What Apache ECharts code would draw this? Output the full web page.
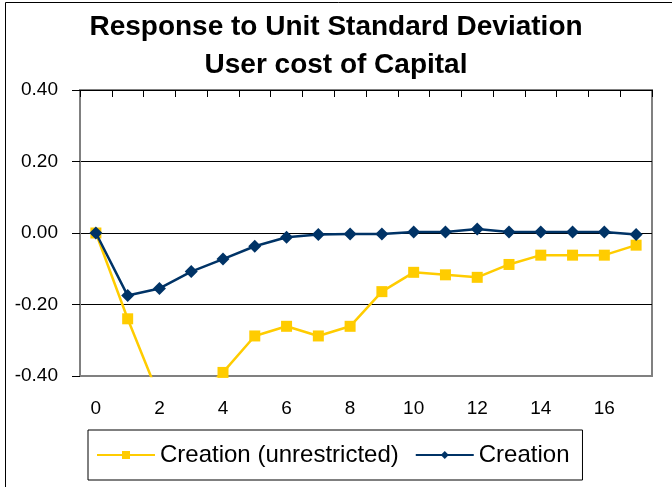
<!DOCTYPE html>
<html>
<head>
<meta charset="utf-8">
<script src="https://cdn.jsdelivr.net/npm/echarts@6/dist/echarts.min.js"></script>
<style>html,body{margin:0;padding:0;background:#fff;}#c{width:672px;height:487px;}</style>
</head>
<body>
<div id="c"></div>
<script>
var categories = ['0','1','2','3','4','5','6','7','8','9','10','11','12','13','14','15','16','17'];
var unrestricted = [0.00, -0.24, -0.46, -0.47, -0.39, -0.288, -0.261, -0.288, -0.261, -0.164, -0.110, -0.117, -0.124, -0.088, -0.062, -0.062, -0.062, -0.034];
var creation = [0.00, -0.175, -0.155, -0.108, -0.073, -0.037, -0.012, -0.004, -0.003, -0.003, 0.003, 0.003, 0.011, 0.003, 0.003, 0.003, 0.003, -0.004];
var yTicks = [-0.4, 0.4, 0.2];
var titleText = 'Response to Unit Standard Deviation\nUser cost of Capital';
var seriesNames = ['Creation (unrestricted)', 'Creation'];

var FONT = "'Liberation Sans', Arial, sans-serif";
var chart = echarts.init(document.getElementById('c'), null, {renderer: 'canvas'});
chart.setOption({
  animation: false,
  backgroundColor: '#fff',
  title: {
    text: titleText,
    left: 'center',
    top: 8,
    padding: [0, 0, 0, 8],
    textStyle: {fontFamily: FONT, fontWeight: 'bold', fontSize: 28, lineHeight: 38, color: '#000'}
  },
  graphic: [
    {type: 'line', shape: {x1: 5.5, y1: 2.5, x2: 672, y2: 2.5}, style: {stroke: '#000', lineWidth: 1}},
    {type: 'line', shape: {x1: 5.5, y1: 2.5, x2: 5.5, y2: 487}, style: {stroke: '#000', lineWidth: 1}}
  ],
  legend: {
    left: 88, top: 430,
    padding: [13, 13, 13, 8],
    borderColor: '#000', borderWidth: 1,
    itemWidth: 58, itemHeight: 10, itemGap: 16,
    textStyle: {fontFamily: FONT, fontSize: 24, color: '#000'},
    data: seriesNames
  },
  grid: {left: 80, top: 90, width: 572, height: 286, show: true, borderColor: '#808080', borderWidth: 2, containLabel: false},
  xAxis: [
    {
      type: 'category', data: categories, position: 'bottom',
      axisLine: {show: false}, axisTick: {show: false},
      axisLabel: {interval: 1, margin: 23, fontFamily: FONT, fontSize: 19, color: '#000'},
      splitLine: {show: false}
    },
    {
      type: 'category', data: categories, position: 'top',
      axisLine: {show: true, onZero: true, lineStyle: {color: '#000', width: 1}},
      axisTick: {show: true, inside: true, length: 7, lineStyle: {color: '#000'}},
      axisLabel: {show: false},
      splitLine: {show: false}
    }
  ],
  yAxis: {
    type: 'value', min: yTicks[0], max: yTicks[1], interval: yTicks[2],
    axisLine: {show: true, lineStyle: {color: '#808080', width: 2}},
    axisTick: {show: true, length: 8, lineStyle: {color: '#000', width: 1}},
    axisLabel: {margin: 22, fontFamily: FONT, fontSize: 19, color: '#000', formatter: function (v) { return v.toFixed(2); }},
    splitLine: {show: true, lineStyle: {color: ['#808080', '#000', '#000', '#000', '#808080'], width: 1}}
  },
  series: [
    {
      name: seriesNames[0], type: 'line', data: unrestricted, xAxisIndex: 0,
      symbol: 'rect', symbolSize: 11,
      lineStyle: {color: '#FFCC00', width: 2.5},
      itemStyle: {color: '#FFCC00'},
      z: 3
    },
    {
      name: seriesNames[1], type: 'line', data: creation, xAxisIndex: 0,
      symbol: 'diamond', symbolSize: 13,
      lineStyle: {color: '#003366', width: 2.5},
      itemStyle: {color: '#003366'},
      z: 4
    }
  ]
});
</script>
</body>
</html>
